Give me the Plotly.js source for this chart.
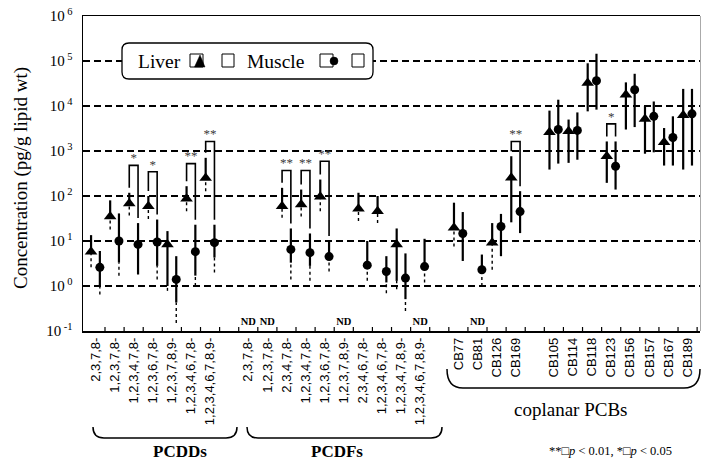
<!DOCTYPE html>
<html><head><meta charset="utf-8">
<script src="https://cdn.plot.ly/plotly-3.0.1.min.js"></script>
<style>body{margin:0;background:#fff}#chart{width:702px;height:461px}</style>
</head><body><div id="chart"></div>
<script>
// ---------------- DATA ----------------
const categories = ['2,3,7,8-','1,2,3,7,8-','1,2,3,4,7,8-','1,2,3,6,7,8-','1,2,3,7,8,9-','1,2,3,4,6,7,8-','1,2,3,4,6,7,8,9-','',
  '2,3,7,8-','1,2,3,7,8-','2,3,4,7,8-','1,2,3,4,7,8-','1,2,3,6,7,8-','1,2,3,7,8,9-','2,3,4,6,7,8-','1,2,3,4,6,7,8-','1,2,3,4,7,8,9-','1,2,3,4,6,7,8,9-','',
  'CB77','CB81','CB126','CB169','',
  'CB105','CB114','CB118','CB123','CB156','CB157','CB167','CB189'];

// Liver (triangles)
const liverVal = [5.8,35,68,59,8.4,87,250,null, null,null,59,65,96,null,52,46,8.4,null,null, 19.7,null,9.2,253,null, 2600,2740,32400,765,17800,5150,1560,6200];
const liverHi  = [13.5,80,118,100,16.6,165,705,null, null,null,152,139,232,null,118,100,19,null,null, 71,null,25,765,null, 7900,5000,89000,1630,33500,10000,3240,24000];
const liverLo  = [5.8,35,68,59,1.0,87,250,null, null,null,59,65,96,null,52,46,1.3,null,null, 19.7,null,9.2,26,null, 387,545,7600,196,3000,870,475,387];
const liverDot = [2.6,18,37,31,0.78,46,128,null, null,null,33,35,46,null,28,25,0.85,null,null, 7.5,null,2.3,null,null, null,null,null,null,null,null,null,null];

// Muscle (circles)
const muscleVal = [2.6,10,8.4,9.5,1.4,5.8,9.2,null, null,null,6.5,5.5,4.5,null,2.9,2.1,1.5,2.7,null, 14.7,2.3,21,45,null, 3000,2870,36300,458,23000,5900,2000,6700];
const muscleHi  = [6.0,41,25,30,4.6,23,23,null, null,null,19,14.7,10,null,10,4.6,5.3,11.2,null, 44,5.0,40,128,null, 13800,7200,145000,1630,52000,12600,5900,24000];
const muscleLo  = [1.0,3.3,1.8,2.8,0.43,1.7,4.3,null, null,null,3.3,2.8,4.5,null,2.9,1.2,0.51,2.7,null, 3.6,2.3,4.6,15,null, 525,640,8300,139,3400,935,475,475];
const muscleDot = [0.65,1.7,null,1.4,0.15,1.0,2.0,null, null,null,1.4,1.3,2.1,null,1.3,0.69,0.28,1.2,null, null,1.0,null,null,null, null,null,null,null,null,null,null,null];

// Significance brackets
const sigCats   = [2,3,5,6,10,11,12,22,27];
const sigLabels = ['*','*','**','**','**','**','**','**','*'];
const sigTop    = [480,345,525,1630,370,370,590,1630,4000];

// Not detected
const ndCats = [8,9,13,17,20];

const yTickVals = [0.1,1,10,100,1000,10000,100000,1000000];
const yTickText = ['10<sup> -1</sup>','10<sup> 0</sup>','10<sup> 1</sup>','10<sup> 2</sup>','10<sup> 3</sup>','10<sup> 4</sup>','10<sup> 5</sup>','10<sup> 6</sup>'];

// ---------------- LAYOUT HELPERS ----------------
const L=83, R=700, T=16, B=331;
const px = x => (x-L)/(R-L);
const py = y => (B-y)/(B-T);
const P = (x,y) => px(x).toFixed(5)+','+py(y).toFixed(5);
const OFF = 0.23, GAP = Math.pow(10, 5/45.1);
const TICKF = Math.pow(10, 4/45.1);
const SERIF = 'Liberation Serif, Times New Roman, serif';
const SANS = 'Liberation Sans, Arial, sans-serif';
const XRANGE = [-0.652, 31.65];
const YMIN = 0.1;

const slots = categories.map((_,i)=>i);
const boundaries = slots.map(s=>s+0.5);
const lx = slots.map(s=>s-OFF), mx = slots.map(s=>s+OFF);

function segs(xs, a, b){
  const X=[],Y=[];
  for(let i=0;i<xs.length;i++){
    if(a[i]==null||b[i]==null) continue;
    X.push(xs[i],xs[i],null); Y.push(a[i],b[i],null);
  }
  return {x:X,y:Y};
}
const solidLine = {color:'#000', width:2.2};
const dotLine = {color:'#000', width:1.4, dash:'dot'};

const ls = segs(lx, liverLo, liverHi), ld = segs(lx, liverDot, liverLo);
const ms = segs(mx, muscleLo, muscleHi), md = segs(mx, muscleDot, muscleLo);
const tk = segs(boundaries, boundaries.map(()=>YMIN), boundaries.map(()=>YMIN*TICKF));

const bx=[], by=[];
sigCats.forEach((c,i)=>{
  bx.push(c-OFF, c-OFF, c+OFF, c+OFF, null);
  by.push(liverHi[c]*GAP, sigTop[i], sigTop[i], muscleHi[c]*GAP, null);
});

const traces = [
  {x:tk.x, y:tk.y, mode:'lines', line:{color:'#000', width:1.2}, hoverinfo:'skip'},
  {x:ls.x, y:ls.y, mode:'lines', line:solidLine, hoverinfo:'skip'},
  {x:ld.x, y:ld.y, mode:'lines', line:dotLine, hoverinfo:'skip'},
  {x:ms.x, y:ms.y, mode:'lines', line:solidLine, hoverinfo:'skip'},
  {x:md.x, y:md.y, mode:'lines', line:dotLine, hoverinfo:'skip'},
  {x:bx, y:by, mode:'lines', line:{color:'#000', width:1.6}, hoverinfo:'skip'},
  {x:lx, y:liverVal, mode:'markers', marker:{symbol:'triangle-up', size:11, color:'#000'}},
  {x:mx, y:muscleVal, mode:'markers', marker:{symbol:'circle', size:9, color:'#000'}},
  {x:sigCats, y:sigTop, mode:'text', text:sigLabels, textposition:'top center',
   textfont:{family:SERIF, size:13, color:'#3a3a3a'}},
  {x:ndCats, y:ndCats.map(()=>0.158), mode:'text', text:ndCats.map(()=>'ND'), textposition:'middle center',
   textfont:{family:SERIF, size:10.5, color:'#000', weight:'bold'}}
];

function bracket(x0,x1,yt,yb,r){
  return 'M'+P(x0,yt)+' Q'+P(x0,yb)+' '+P(x0+r,yb)+' L'+P(x1-r,yb)+' Q'+P(x1,yb)+' '+P(x1,yt);
}
function rrect(x0,y0,x1,y1,r){
  return 'M'+P(x0+r,y0)+' L'+P(x1-r,y0)+' Q'+P(x1,y0)+' '+P(x1,y0+r)+' L'+P(x1,y1-r)+' Q'+P(x1,y1)+' '+P(x1-r,y1)+
    ' L'+P(x0+r,y1)+' Q'+P(x0,y1)+' '+P(x0,y1-r)+' L'+P(x0,y0+r)+' Q'+P(x0,y0)+' '+P(x0+r,y0)+' Z';
}
const pl = {xref:'paper', yref:'paper'};
const shapes = [
  Object.assign({type:'path', path:bracket(93,237,427,438,11), line:{color:'#000',width:1.5}}, pl),
  Object.assign({type:'path', path:bracket(247,442,427,438,11), line:{color:'#000',width:1.5}}, pl),
  Object.assign({type:'path', path:bracket(447,700,369,388,16), line:{color:'#000',width:1.5}}, pl),
  Object.assign({type:'line', x0:px(700.5), x1:px(700.5), y0:0, y1:1, line:{color:'#aaa',width:1}}, pl),
  // legend box
  Object.assign({type:'path', path:rrect(122,43,373,79,7), fillcolor:'#fff', line:{color:'#000',width:1.3}}, pl),
  Object.assign({type:'rect', x0:px(190), x1:px(203), y0:py(67), y1:py(54), line:{color:'#000',width:1}}, pl),
  Object.assign({type:'path', path:'M'+P(194.5,67)+' L'+P(205,67)+' L'+P(200,55)+' Z', fillcolor:'#000', line:{color:'#000',width:0.5}}, pl),
  Object.assign({type:'rect', x0:px(222), x1:px(234), y0:py(67), y1:py(54), line:{color:'#000',width:1}}, pl),
  Object.assign({type:'rect', x0:px(320), x1:px(333), y0:py(67), y1:py(54), line:{color:'#000',width:1}}, pl),
  Object.assign({type:'circle', x0:px(330), x1:px(338), y0:py(65), y1:py(57), fillcolor:'#000', line:{color:'#000',width:0.5}}, pl),
  Object.assign({type:'rect', x0:px(352), x1:px(364), y0:py(67), y1:py(54), line:{color:'#000',width:1}}, pl)
];

const ann = (x,y,text,size,extra) => Object.assign({xref:'paper', yref:'paper', x:px(x), y:py(y), text:text,
  showarrow:false, font:{family:SERIF, size:size, color:'#000'}, xanchor:'center', yanchor:'middle'}, extra||{});
const annotations = [
  ann(136,61,'Liver',19.5,{xanchor:'left'}),
  ann(245,61,'Muscle',19.5,{xanchor:'left'}),
  ann(180,451,'<b>PCDDs</b>',17),
  ann(337,451,'<b>PCDFs</b>',17),
  ann(570,409,'coplanar PCBs',19),
  ann(610,451,'**□<i>p</i> < 0.01, *□<i>p</i> < 0.05',12.5),
  ann(21,178,'Concentration (pg/g lipid wt)',19,{textangle:-90})
];

const layout = {
  width:702, height:461, margin:{l:L, r:702-R, t:T, b:461-B},
  paper_bgcolor:'#fff', plot_bgcolor:'#fff', showlegend:false,
  xaxis:{range:XRANGE, tickmode:'array', tickvals:slots, ticktext:categories, tickangle:-90,
    ticks:'', showgrid:false, zeroline:false, showline:true, linecolor:'#000', linewidth:1.5, mirror:true,
    tickfont:{family:SANS, size:13, color:'#000'}},
  yaxis:{type:'log', range:[-1,6], tickmode:'array', tickvals:yTickVals, ticktext:yTickText, ticks:'',
    showgrid:true, gridcolor:'#000', gridwidth:1.3, griddash:'7px,4px', zeroline:false,
    showline:true, linecolor:'#000', linewidth:1.5, ticklabelstandoff:6,
    tickfont:{family:SERIF, size:15, color:'#000'}},
  shapes:shapes, annotations:annotations
};
Plotly.newPlot('chart', traces, layout, {displayModeBar:false, staticPlot:true});
</script></body></html>
